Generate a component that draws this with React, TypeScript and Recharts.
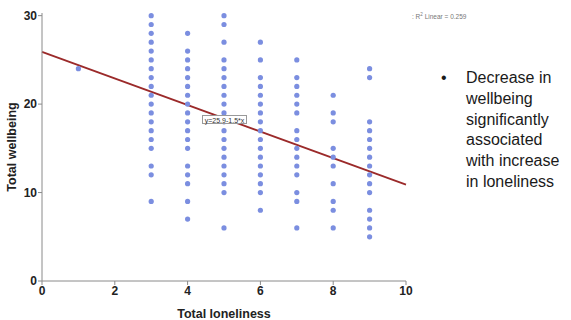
import React from "react";
import {
  ScatterChart,
  Scatter,
  XAxis,
  YAxis,
  ReferenceLine,
} from "recharts";

// loneliness score -> wellbeing scores observed at that score
const lonelinessScores = [1, 3, 4, 5, 6, 7, 8, 9];
const wellbeingScores = [
  [24],
  [30, 29, 28, 27, 26, 25, 24, 23, 22, 21, 20, 19, 18, 17, 16, 15, 13, 12, 9],
  [28, 26, 25, 24, 23, 22, 21, 20, 19, 18, 17, 16, 15, 13, 12, 11, 9, 7],
  [30, 29, 27, 25, 24, 23, 22, 21, 20, 19, 18, 17, 16, 15, 14, 13, 12, 11, 10, 6],
  [27, 25, 23, 22, 21, 20, 19, 18, 17, 16, 15, 14, 13, 12, 11, 10, 8],
  [25, 23, 22, 21, 20, 19, 17, 16, 15, 14, 13, 12, 10, 9, 6],
  [21, 19, 18, 15, 14, 13, 11, 9, 8, 6],
  [24, 23, 18, 17, 16, 15, 14, 13, 12, 11, 10, 8, 7, 6, 5],
];
const xTicks = [0, 2, 4, 6, 8, 10];
const yTicks = [0, 10, 20, 30];
const fitIntercept = 25.9;
const fitSlope = -1.5;
const rSquared = 0.259;
const bulletLines = [
  "Decrease in",
  "wellbeing",
  "significantly",
  "associated",
  "with increase",
  "in loneliness",
];

const points = lonelinessScores.flatMap((x, i) =>
  wellbeingScores[i].map((y) => ({ x, y }))
);

const axisGray = "#8a8a8a";
const frameGray = "#c4c4c4";
const tickStyle = { fontSize: 12, fontWeight: 700, fill: "#222", fontFamily: "Liberation Sans, Arial, sans-serif" };

const Dot = (props: any) => (
  <circle cx={props.cx} cy={props.cy} r={2.6} fill="#7b8ee0" />
);

export default function App() {
  return (
    <div style={{ position: "absolute", left: 0, top: 0, width: 571, height: 320, background: "#fff" }}>
      <ScatterChart
        width={571}
        height={320}
        margin={{ top: 13, right: 165, bottom: 0, left: 0 }}
      >
        <XAxis
          type="number"
          dataKey="x"
          domain={[0, 10]}
          ticks={xTicks}
          height={39}
          tick={tickStyle}
          tickSize={4}
          tickMargin={1}
          axisLine={{ stroke: axisGray }}
          tickLine={{ stroke: axisGray }}
          label={{
            value: "Total loneliness",
            position: "insideBottom",
            offset: 2,
            style: { ...tickStyle, fontSize: 12.5 },
          }}
        />
        <XAxis
          xAxisId="frame"
          orientation="top"
          type="number"
          domain={[0, 10]}
          height={0}
          tick={false}
          tickLine={false}
          axisLine={{ stroke: frameGray }}
        />
        <YAxis
          type="number"
          dataKey="y"
          domain={[0, 30.3]}
          ticks={yTicks}
          width={42}
          tick={tickStyle}
          tickSize={4}
          tickMargin={1}
          axisLine={{ stroke: axisGray }}
          tickLine={{ stroke: axisGray }}
          label={{
            value: "Total wellbeing",
            angle: -90,
            position: "insideLeft",
            offset: 12,
            style: { ...tickStyle, fontSize: 12.5, textAnchor: "middle" },
          }}
        />
        <YAxis
          yAxisId="frame"
          orientation="right"
          type="number"
          domain={[0, 30.3]}
          width={0}
          tick={false}
          tickLine={false}
          axisLine={{ stroke: frameGray }}
        />
        <Scatter data={points} shape={Dot} isAnimationActive={false} />
        <ReferenceLine
          segment={[
            { x: 0, y: fitIntercept },
            { x: 10, y: fitIntercept + fitSlope * 10 },
          ]}
          stroke="#9b2a2a"
          strokeWidth={1.8}
        />
      </ScatterChart>

      <div
        style={{
          position: "absolute",
          left: 202,
          top: 115,
          width: 45,
          height: 9,
          border: "1px solid #999",
          background: "#fff",
          fontFamily: "Liberation Sans, Arial, sans-serif",
          fontSize: 7,
          lineHeight: "9px",
          color: "#333",
          textAlign: "center",
          boxSizing: "border-box",
        }}
      >
        {`y=${fitIntercept}${fitSlope < 0 ? "-" : "+"}${Math.abs(fitSlope)}*x`}
      </div>

      <div
        style={{
          position: "absolute",
          left: 412,
          top: 12,
          fontFamily: "Liberation Sans, Arial, sans-serif",
          fontSize: 6.5,
          color: "#777",
          whiteSpace: "nowrap",
        }}
      >
        : R<sup style={{ fontSize: 4.5 }}>2</sup> Linear = {rSquared}
      </div>

      <div
        style={{
          position: "absolute",
          left: 441,
          top: 68,
          fontFamily: "Liberation Sans, Arial, sans-serif",
          fontSize: 16,
          lineHeight: "20.8px",
          color: "#1a1a1a",
        }}
      >
        <span style={{ position: "absolute", left: 0, top: 0 }}>•</span>
        <div style={{ marginLeft: 25 }}>
          {bulletLines.map((line) => (
            <div key={line} style={{ whiteSpace: "nowrap" }}>
              {line}
            </div>
          ))}
        </div>
      </div>
    </div>
  );
}
